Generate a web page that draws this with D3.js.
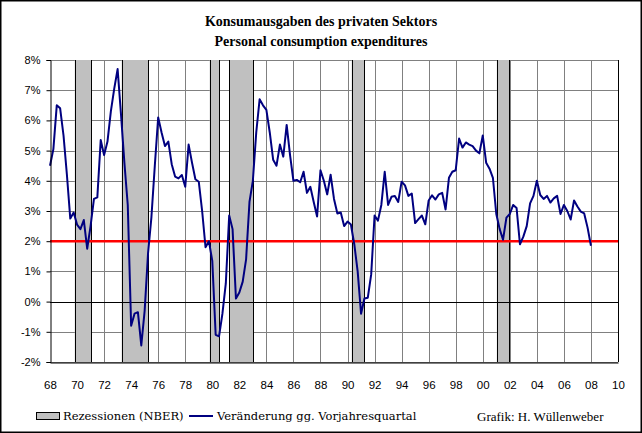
<!DOCTYPE html>
<html>
<head>
<meta charset="utf-8">
<script src="https://cdn.jsdelivr.net/npm/d3@7"></script>
<style>
  body { margin: 0; background: #fff; }
  svg { display: block; }
</style>
</head>
<body>
<div class="chart"></div>
<script>
var svgWidth = 642;
var svgHeight = 433;

var margin = { top: 60, right: 24, bottom: 71, left: 50 };
var width = svgWidth - margin.left - margin.right;
var height = svgHeight - margin.top - margin.bottom;

// quarterly values, 1968Q1 .. 2008Q1 (% change vs. same quarter of previous year)
var startYear = 1968;
var pceChange = [
  4.5, 5.05, 6.5, 6.4, 5.5, 4.2, 2.75, 2.95, 2.55, 2.4,
  2.7, 1.75, 2.5, 3.4, 3.45, 5.35, 4.85, 5.3, 6.3, 7.05,
  7.7, 6.2, 4.6, 3.2, -0.8, -0.4, -0.35, -1.45, -0.3, 1.6,
  2.8, 4.5, 6.1, 5.6, 5.15, 5.3, 4.55, 4.14, 4.08, 4.19,
  3.8, 5.2, 4.6, 4.05, 3.97, 3.0, 1.8, 2.0, 1.35, -1.1,
  -1.15, -0.4, 0.6, 2.85, 2.4, 0.1, 0.3, 0.66, 1.4, 3.3,
  4.0, 5.6, 6.7, 6.5, 6.35, 5.6, 4.7, 4.5, 5.2, 4.8,
  5.85, 4.85, 4.0, 4.03, 3.95, 4.3, 3.6, 3.8, 3.3, 2.82,
  4.35, 4.0, 3.55, 4.2, 3.4, 2.92, 2.95, 2.5, 2.65, 2.55,
  1.9, 1.0, -0.4, 0.1, 0.13, 0.9, 2.85, 2.68, 3.2, 4.3,
  3.2, 3.47, 3.5, 3.3, 3.97, 3.85, 3.5, 3.58, 2.6, 2.73,
  2.85, 2.56, 3.35, 3.52, 3.38, 3.55, 3.6, 3.05, 4.1, 4.3,
  4.35, 5.4, 5.1, 5.27, 5.2, 5.15, 5.0, 4.91, 5.5, 4.6,
  4.4, 4.1, 2.9, 2.4, 2.05, 2.78, 2.9, 3.2, 3.1, 1.9,
  2.15, 2.5, 3.25, 3.5, 4.0, 3.53, 3.4, 3.5, 3.28, 3.42,
  3.5, 2.9, 3.2, 3.0, 2.72, 3.35, 3.15, 2.98, 2.92, 2.45,
  1.85
];

// NBER recessions as shown (decimal years)
var recessionStart = [1969.83, 1973.3, 1979.81, 1981.26, 1990.31, 2001.04];
var recessionEnd   = [1971.05, 1975.27, 1980.52, 1983.04, 1991.25, 2001.97];

var targetLine = 2;
var yTicks = [-2, -1, 0, 1, 2, 3, 4, 5, 6, 7, 8];
var xTickYears = [1968, 1970, 1972, 1974, 1976, 1978, 1980, 1982, 1984, 1986, 1988,
                  1990, 1992, 1994, 1996, 1998, 2000, 2002, 2004, 2006, 2008, 2010];

var titleLines = ["Konsumausgaben des privaten Sektors", "Personal consumption expenditures"];
var legendRecession = "Rezessionen (NBER)";
var legendLine = "Veränderung gg. Vorjahresquartal";
var credit = "Grafik: H. Wüllenweber";

var data = pceChange.map(function(v, i) {
  return { year: startYear + i / 4, value: v };
});
var recessions = recessionStart.map(function(s, i) {
  return { start: s, end: recessionEnd[i] };
});

var svg = d3.select(".chart")
  .append("svg")
  .attr("width", svgWidth)
  .attr("height", svgHeight);

svg.append("rect")
  .attr("x", 0.75).attr("y", 0.75)
  .attr("width", svgWidth - 1.5).attr("height", svgHeight - 1.5)
  .attr("fill", "#fff")
  .attr("stroke", "#000")
  .attr("stroke-width", 1.5);

var serif = "'Liberation Serif', 'Times New Roman', serif";
var wideSerif = "'DejaVu Serif', 'Liberation Serif', serif";
var sans = "'Liberation Sans', Arial, sans-serif";

// Title
svg.selectAll("text.title")
  .data(titleLines)
  .enter()
  .append("text")
  .attr("class", "title")
  .attr("x", svgWidth / 2)
  .attr("y", function(d, i) { return 26 + i * 20; })
  .attr("text-anchor", "middle")
  .attr("font-family", serif)
  .attr("font-weight", "bold")
  .attr("font-size", "14px")
  .text(function(d) { return d; });

var chartGroup = svg.append("g")
  .attr("transform", `translate(${margin.left}, ${margin.top})`);

var xScale = d3.scaleLinear()
  .domain([1968, 2010])
  .range([0, width]);

var yScale = d3.scaleLinear()
  .domain([-2, 8])
  .range([height, 0]);

// gridlines
chartGroup.selectAll("line.hgrid")
  .data(yTicks)
  .enter()
  .append("line")
  .attr("class", "hgrid")
  .attr("x1", 0).attr("x2", width)
  .attr("y1", d => Math.round(yScale(d)) + 0.5)
  .attr("y2", d => Math.round(yScale(d)) + 0.5)
  .attr("stroke", "#808080")
  .attr("stroke-width", 1);

chartGroup.selectAll("line.vgrid")
  .data(xTickYears.slice(1))
  .enter()
  .append("line")
  .attr("class", "vgrid")
  .attr("x1", d => Math.round(xScale(d)) + 0.5)
  .attr("x2", d => Math.round(xScale(d)) + 0.5)
  .attr("y1", 0).attr("y2", height)
  .attr("stroke", "#808080")
  .attr("stroke-width", 1);

// recession bands
var bands = chartGroup.selectAll("g.band")
  .data(recessions)
  .enter()
  .append("g")
  .attr("class", "band");

bands.append("rect")
  .attr("x", d => xScale(d.start))
  .attr("width", d => xScale(d.end) - xScale(d.start))
  .attr("y", 0)
  .attr("height", height)
  .attr("fill", "#c0c0c0");

bands.selectAll("line")
  .data(d => [d.start, d.end])
  .enter()
  .append("line")
  .attr("x1", d => Math.round(xScale(d)) + 0.5)
  .attr("x2", d => Math.round(xScale(d)) + 0.5)
  .attr("y1", 0).attr("y2", height)
  .attr("stroke", "#000")
  .attr("stroke-width", 1);

// zero line
chartGroup.append("line")
  .attr("x1", 0).attr("x2", width)
  .attr("y1", Math.round(yScale(0)) + 0.5)
  .attr("y2", Math.round(yScale(0)) + 0.5)
  .attr("stroke", "#000");

// right border
chartGroup.append("line")
  .attr("x1", width + 0.5).attr("x2", width + 0.5)
  .attr("y1", 0).attr("y2", height)
  .attr("stroke", "#000");

// 2% line
chartGroup.append("line")
  .attr("x1", 0).attr("x2", width)
  .attr("y1", yScale(targetLine))
  .attr("y2", yScale(targetLine))
  .attr("stroke", "#ff0000")
  .attr("stroke-width", 2.5);

// data line
var line = d3.line()
  .x(d => xScale(d.year))
  .y(d => yScale(d.value));

chartGroup.append("path")
  .datum(data)
  .attr("d", line)
  .attr("fill", "none")
  .attr("stroke", "#000080")
  .attr("stroke-width", 2)
  .attr("stroke-linejoin", "round");

// y axis
var leftAxis = d3.axisLeft(yScale)
  .tickValues(yTicks)
  .tickSize(4)
  .tickPadding(6)
  .tickFormat(d => d + "%");

var yAxisG = chartGroup.append("g")
  .attr("transform", "translate(0.5, 0)")
  .call(leftAxis);
yAxisG.select(".domain").attr("stroke", "#000");
yAxisG.selectAll(".tick line").attr("stroke", "#000");
yAxisG.selectAll(".tick text")
  .attr("font-family", sans)
  .attr("font-size", "11px")
  .attr("fill", "#000");

// x axis
var bottomAxis = d3.axisBottom(xScale)
  .tickValues(xTickYears)
  .tickSize(0)
  .tickPadding(18)
  .tickFormat(d => d3.format("02d")(d % 100));

var xAxisG = chartGroup.append("g")
  .attr("transform", `translate(0, ${Math.round(height) + 0.5})`)
  .call(bottomAxis);
xAxisG.select(".domain").attr("stroke", "#000");
xAxisG.selectAll(".tick text")
  .attr("font-family", "'Liberation Sans Narrow', " + sans)
  .attr("font-size", "11.5px")
  .attr("fill", "#000");

// legend
var legend = svg.append("g");

legend.append("rect")
  .attr("x", 36.5).attr("y", 412.5)
  .attr("width", 23).attr("height", 7)
  .attr("fill", "#c0c0c0")
  .attr("stroke", "#000");

legend.append("text")
  .attr("x", 63).attr("y", 420)
  .attr("font-family", wideSerif)
  .attr("font-size", "11.5px")
  .text(legendRecession);

legend.append("line")
  .attr("x1", 189).attr("x2", 213)
  .attr("y1", 416).attr("y2", 416)
  .attr("stroke", "#000080")
  .attr("stroke-width", 2);

legend.append("text")
  .attr("x", 217).attr("y", 420)
  .attr("font-family", wideSerif)
  .attr("font-size", "11.5px")
  .text(legendLine);

svg.append("text")
  .attr("x", 477).attr("y", 421)
  .attr("font-family", serif)
  .attr("font-size", "13px")
  .text(credit);
</script>
</body>
</html>
